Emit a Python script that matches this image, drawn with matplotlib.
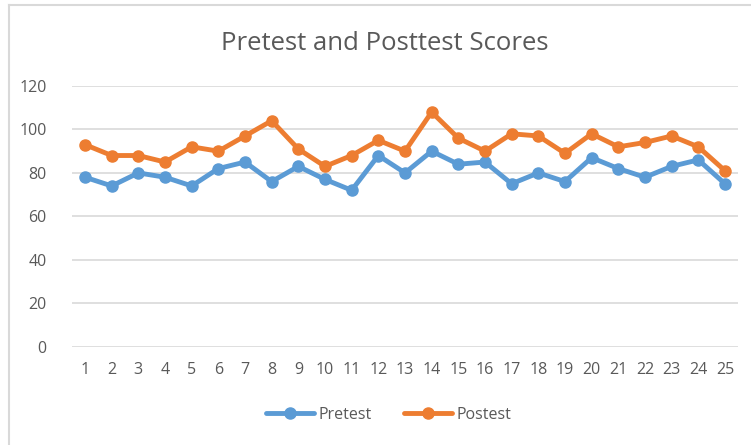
import matplotlib
matplotlib.use("Agg")
import matplotlib.pyplot as plt
from matplotlib.lines import Line2D
import numpy as np


students = [str(i) for i in range(1, 26)]

pretest = [78, 74, 80, 78, 74, 82, 85, 76, 83, 77, 72, 88, 80,
           90, 84, 85, 75, 80, 76, 87, 82, 78, 83, 86, 75]

posttest = [93, 88, 88, 85, 92, 90, 97, 104, 91, 83, 88, 95, 90,
            108, 96, 90, 98, 97, 89, 98, 92, 94, 97, 92, 81]

y_ticks = [0, 20, 40, 60, 80, 100, 120]

BLUE = "#5B9BD5"
ORANGE = "#ED7D31"
GREY_TEXT = "#595959"
GRID = "#D9D9D9"

plt.rcParams["font.family"] = ["Open Sans", "DejaVu Sans"]

W, H = 751, 445
fig = plt.figure(figsize=(W / 100, H / 100), dpi=100)

# chart frame (only left and top edges are visible in the crop)
fig.add_artist(Line2D([9 / W, 9 / W], [0, 1 - 5 / H],
                      transform=fig.transFigure, color=GRID, lw=1.5))
fig.add_artist(Line2D([9 / W, 1], [1 - 5 / H, 1 - 5 / H],
                      transform=fig.transFigure, color=GRID, lw=1.5))

ax = fig.add_axes([71.7 / W, 98.3 / H, 666.6 / W, 260.7 / H])

x = np.arange(len(students))

ax.plot(x, pretest, color=BLUE, lw=3.5, marker="o", markersize=8,
        label="Pretest", solid_capstyle="round")
ax.plot(x, posttest, color=ORANGE, lw=3.5, marker="o", markersize=8,
        label="Postest", solid_capstyle="round")

ax.set_xlim(-0.5, len(students) - 0.5)
ax.set_ylim(0, 120)
ax.set_xticks(x)
ax.set_xticklabels(students)
ax.set_yticks(y_ticks)

ax.grid(axis="y", color=GRID, lw=1.2)
ax.set_axisbelow(True)
for side in ["top", "right", "left", "bottom"]:
    ax.spines[side].set_visible(False)

ax.tick_params(axis="both", length=0, labelsize=11.5,
               labelcolor=GREY_TEXT)
ax.tick_params(axis="x", pad=11)
ax.tick_params(axis="y", pad=18)

fig.text(385 / W, 1 - 44 / H, "Pretest and Posttest Scores",
         ha="center", va="center", fontsize=18.5, color=GREY_TEXT)

fig.legend(loc="center", bbox_to_anchor=(389 / W, 1 - 415 / H),
           ncol=2, frameon=False, fontsize=11.5, labelcolor=GREY_TEXT,
           handlelength=3, columnspacing=2.0, handletextpad=0.3)

fig.savefig("out.png", dpi=100)
plt.close(fig)
